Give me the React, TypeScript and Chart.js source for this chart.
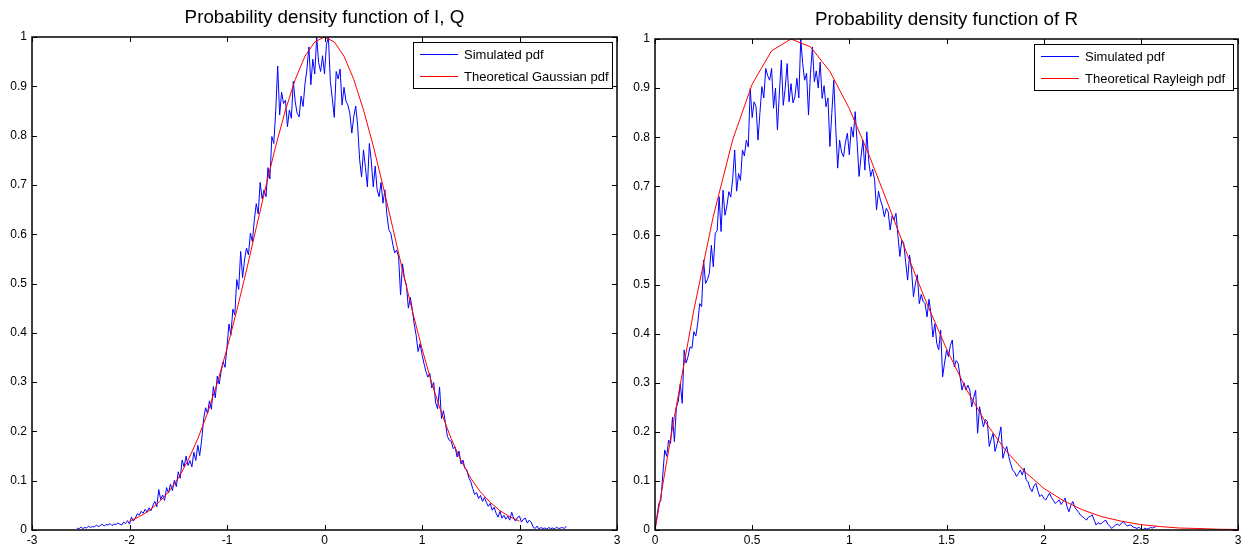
import React, { useEffect, useRef } from 'react';
import { Chart, registerables } from 'chart.js';

Chart.register(...registerables);

const FONT = '"Liberation Sans", Arial, Helvetica, sans-serif';

// ---------- Left panel: I, Q ----------
const leftTitle = 'Probability density function of I, Q';
const leftLegend = ['Simulated pdf', 'Theoretical Gaussian pdf'];
const leftXTicks = [-3, -2, -1, 0, 1, 2, 3];
const leftXTickLabels = ['-3', '-2', '-1', '0', '1', '2', '3'];
const leftSimStart = -2.54;
const leftSimStep = 0.02;
const leftSim = [
  0.004, 0.002, 0.006, 0.003, 0.005, 0.004, 0.008, 0.005, 0.007, 0.006,
  0.010, 0.007, 0.009, 0.012, 0.008, 0.011, 0.010, 0.013, 0.009, 0.012,
  0.011, 0.014, 0.012, 0.010, 0.016, 0.013, 0.019, 0.012, 0.026, 0.018,
  0.024, 0.033, 0.030, 0.038, 0.034, 0.042, 0.036, 0.045, 0.039, 0.050,
  0.058, 0.047, 0.082, 0.062, 0.071, 0.060, 0.086, 0.075, 0.093, 0.080,
  0.101, 0.088, 0.118, 0.105, 0.142, 0.128, 0.150, 0.131, 0.141, 0.128,
  0.158, 0.141, 0.172, 0.151, 0.182, 0.225, 0.248, 0.236, 0.262, 0.245,
  0.291, 0.268, 0.312, 0.296, 0.322, 0.341, 0.330, 0.372, 0.418, 0.395,
  0.448, 0.436, 0.508, 0.488, 0.565, 0.512, 0.548, 0.572, 0.558, 0.602,
  0.585, 0.628, 0.662, 0.641, 0.705, 0.672, 0.690, 0.676, 0.735, 0.712,
  0.798, 0.784, 0.852, 0.941, 0.842, 0.888, 0.865, 0.872, 0.818, 0.852,
  0.835, 0.910, 0.868, 0.845, 0.838, 0.880, 0.859, 0.905, 0.935, 0.980,
  0.903, 0.955, 0.925, 1.000, 0.948, 0.930, 0.962, 0.925, 0.985, 1.000,
  0.910, 0.875, 0.837, 0.930, 0.915, 0.935, 0.862, 0.898, 0.870, 0.862,
  0.845, 0.805, 0.838, 0.860, 0.820, 0.752, 0.716, 0.771, 0.735, 0.696,
  0.784, 0.748, 0.696, 0.738, 0.690, 0.676, 0.705, 0.663, 0.690, 0.640,
  0.609, 0.602, 0.580, 0.562, 0.568, 0.554, 0.477, 0.540, 0.510, 0.498,
  0.450, 0.472, 0.448, 0.418, 0.395, 0.362, 0.378, 0.356, 0.338, 0.322,
  0.310, 0.318, 0.288, 0.299, 0.258, 0.246, 0.290, 0.226, 0.242, 0.218,
  0.190, 0.182, 0.180, 0.165, 0.168, 0.148, 0.160, 0.134, 0.142, 0.125,
  0.122, 0.106, 0.098, 0.084, 0.072, 0.076, 0.064, 0.070, 0.058, 0.066,
  0.056, 0.048, 0.054, 0.040, 0.046, 0.034, 0.026, 0.038, 0.024, 0.030,
  0.022, 0.028, 0.020, 0.036, 0.024, 0.018, 0.026, 0.028, 0.016, 0.022,
  0.024, 0.014, 0.020, 0.016, 0.006, 0.003, 0.008, 0.002, 0.005, 0.003,
  0.004, 0.002, 0.005, 0.003, 0.004, 0.002, 0.006, 0.003, 0.004, 0.005, 0.003, 0.008,
];
const leftTheoStart = -2;
const leftTheoStep = 0.1;
const leftTheo = [
  0.018, 0.027, 0.039, 0.056, 0.077, 0.105, 0.141, 0.185, 0.237, 0.298,
  0.368, 0.445, 0.527, 0.613, 0.698, 0.779, 0.852, 0.914, 0.961, 0.990,
  1.000,
  0.990, 0.961, 0.914, 0.852, 0.779, 0.698, 0.613, 0.527, 0.445, 0.368,
  0.298, 0.237, 0.185, 0.141, 0.105, 0.077, 0.056, 0.039, 0.027, 0.018,
];

// ---------- Right panel: R ----------
const rightTitle = 'Probability density function of R';
const rightLegend = ['Simulated pdf', 'Theoretical Rayleigh pdf'];
const rightXTicks = [0, 0.5, 1, 1.5, 2, 2.5, 3];
const rightXTickLabels = ['0', '0.5', '1', '1.5', '2', '2.5', '3'];
const rightSimStart = 0;
const rightSimStep = 0.01;
const rightSim = [
  0.000, 0.028, 0.054, 0.060, 0.112, 0.163, 0.150, 0.183, 0.176, 0.230,
  0.180, 0.250, 0.262, 0.298, 0.258, 0.367, 0.340, 0.353, 0.373, 0.370,
  0.404, 0.395, 0.421, 0.461, 0.455, 0.550, 0.502, 0.510, 0.523, 0.580,
  0.536, 0.604, 0.610, 0.679, 0.608, 0.692, 0.641, 0.660, 0.689, 0.678,
  0.716, 0.774, 0.690, 0.726, 0.712, 0.774, 0.762, 0.794, 0.780, 0.899,
  0.840, 0.872, 0.862, 0.794, 0.850, 0.903, 0.880, 0.940, 0.925, 0.916,
  0.940, 0.859, 0.900, 0.815, 0.890, 0.957, 0.865, 0.900, 0.950, 0.872,
  0.909, 0.870, 0.882, 0.920, 0.880, 1.000, 0.950, 0.916, 0.930, 0.845,
  0.930, 0.984, 0.913, 0.935, 0.900, 0.953, 0.879, 0.905, 0.862, 0.880,
  0.781, 0.850, 0.916, 0.820, 0.737, 0.794, 0.770, 0.760, 0.790, 0.808,
  0.764, 0.821, 0.800, 0.852, 0.790, 0.720, 0.760, 0.794, 0.733, 0.811,
  0.750, 0.720, 0.735, 0.713, 0.652, 0.690, 0.672, 0.660, 0.638, 0.655,
  0.648, 0.611, 0.640, 0.631, 0.645, 0.600, 0.557, 0.590, 0.584, 0.545,
  0.509, 0.560, 0.530, 0.475, 0.502, 0.520, 0.461, 0.480, 0.465, 0.461,
  0.434, 0.470, 0.440, 0.393, 0.420, 0.380, 0.367, 0.407, 0.312, 0.340,
  0.366, 0.353, 0.376, 0.387, 0.332, 0.345, 0.339, 0.312, 0.285, 0.300,
  0.285, 0.295, 0.285, 0.251, 0.270, 0.285, 0.197, 0.251, 0.230, 0.210,
  0.225, 0.221, 0.170, 0.185, 0.197, 0.160, 0.175, 0.190, 0.210, 0.146,
  0.160, 0.170, 0.150, 0.135, 0.122, 0.118, 0.109, 0.115, 0.122, 0.112,
  0.126, 0.102, 0.098, 0.085, 0.078, 0.090, 0.095, 0.080, 0.068, 0.072,
  0.065, 0.061, 0.068, 0.075, 0.066, 0.060, 0.054, 0.058, 0.061, 0.052,
  0.058, 0.065, 0.048, 0.037, 0.050, 0.058, 0.046, 0.041, 0.036, 0.030,
  0.027, 0.024, 0.020, 0.026, 0.028, 0.031, 0.020, 0.010, 0.015, 0.012,
  0.014, 0.018, 0.020, 0.012, 0.008, 0.003, 0.007, 0.010, 0.012, 0.009,
  0.014, 0.017, 0.012, 0.008, 0.010, 0.010, 0.006, 0.005, 0.003, 0.006,
  0.002, 0.000, 0.004, 0.002, 0.003, 0.005, 0.004, 0.006, 0.007,
];
const rightTheoStart = 0;
const rightTheoStep = 0.1;
const rightTheo = [
  0.000, 0.231, 0.448, 0.639, 0.795, 0.908, 0.976, 1.000, 0.984, 0.934,
  0.858, 0.765, 0.663, 0.559, 0.460, 0.369, 0.288, 0.220, 0.164, 0.120,
  0.085, 0.060, 0.041, 0.027, 0.018, 0.011, 0.007, 0.004, 0.003, 0.0015,
  0.001,
];

// ---------- shared y axis ----------
const yTicks = [0, 0.1, 0.2, 0.3, 0.4, 0.5, 0.6, 0.7, 0.8, 0.9, 1];
const yTickLabels = ['0', '0.1', '0.2', '0.3', '0.4', '0.5', '0.6', '0.7', '0.8', '0.9', '1'];

const toPoints = (start: number, step: number, ys: number[]) =>
  ys.map((y, i) => ({ x: +(start + i * step).toFixed(4), y }));

const framePlugin = {
  id: 'pdfFrame',
  afterDatasetsDraw(chart: any, _args: any, opts: any) {
    const { ctx, chartArea: a, scales } = chart;
    const xs = scales.x;
    const ys = scales.y;
    ctx.save();
    ctx.strokeStyle = '#000';
    ctx.lineWidth = 1;
    ctx.beginPath();
    const tl = 5;
    xs.ticks.forEach((t: any) => {
      const p = Math.round(xs.getPixelForValue(t.value)) + 0.5;
      ctx.moveTo(p, a.bottom);
      ctx.lineTo(p, a.bottom - tl);
      ctx.moveTo(p, a.top);
      ctx.lineTo(p, a.top + tl);
    });
    ys.ticks.forEach((t: any) => {
      const p = Math.round(ys.getPixelForValue(t.value)) + 0.5;
      ctx.moveTo(a.left, p);
      ctx.lineTo(a.left + tl, p);
      ctx.moveTo(a.right, p);
      ctx.lineTo(a.right - tl, p);
    });
    ctx.stroke();
    ctx.lineWidth = 1.5;
    ctx.strokeRect(Math.round(a.left), Math.round(a.top), Math.round(a.right - a.left), Math.round(a.bottom - a.top));

    // legend box
    const bw = 199;
    const bh = 46;
    const bx = Math.round(a.right) - 5 - bw;
    const by = Math.round(a.top) + 5;
    ctx.fillStyle = '#fff';
    ctx.fillRect(bx, by, bw, bh);
    ctx.lineWidth = 1;
    ctx.strokeStyle = '#000';
    ctx.strokeRect(bx + 0.5, by + 0.5, bw, bh);
    ctx.font = `13px ${FONT}`;
    ctx.textBaseline = 'middle';
    ctx.textAlign = 'left';
    const labels: string[] = opts.labels;
    const colors: string[] = opts.colors;
    labels.forEach((lab, i) => {
      const yy = by + 12 + i * 22 + 0.5;
      ctx.strokeStyle = colors[i];
      ctx.beginPath();
      ctx.moveTo(bx + 7, yy);
      ctx.lineTo(bx + 45, yy);
      ctx.stroke();
      ctx.fillStyle = '#000';
      ctx.fillText(lab, bx + 51, yy + 0.5);
    });
    ctx.restore();
  },
};

type Panel = {
  title: string;
  legend: string[];
  sim: { x: number; y: number }[];
  theo: { x: number; y: number }[];
  xMin: number;
  xMax: number;
  xTicks: number[];
  xTickLabels: string[];
  left: number;
  width: number;
  yAxisWidth: number;
  padRight: number;
  titleTop: number;
};

function makeConfig(p: Panel): any {
  return {
    type: 'line',
    data: {
      datasets: [
        {
          label: p.legend[1],
          data: p.theo,
          borderColor: '#ff0000',
          borderWidth: 1,
          pointRadius: 0,
          tension: 0,
          fill: false,
          order: 0,
        },
        {
          label: p.legend[0],
          data: p.sim,
          borderColor: '#0000ff',
          borderWidth: 1,
          pointRadius: 0,
          tension: 0,
          fill: false,
          order: 1,
        },
      ],
    },
    options: {
      responsive: false,
      animation: false,
      devicePixelRatio: 1,
      events: [],
      layout: { padding: { left: 0, right: p.padRight, top: 0, bottom: 0 } },
      plugins: {
        legend: { display: false },
        tooltip: { enabled: false },
        title: {
          display: true,
          fullSize: false,
          text: p.title,
          color: '#000',
          font: { family: FONT, size: 18.8, weight: 'normal', lineHeight: 1.2 },
          padding: { top: p.titleTop, bottom: 7.44 },
        },
        pdfFrame: { labels: p.legend, colors: ['#0000ff', '#ff0000'] },
      },
      scales: {
        x: {
          type: 'linear',
          min: p.xMin,
          max: p.xMax,
          afterBuildTicks: (s: any) => {
            s.ticks = p.xTicks.map((v) => ({ value: v }));
          },
          afterFit: (s: any) => {
            s.height = 21;
          },
          ticks: {
            autoSkip: false,
            maxRotation: 0,
            padding: 3,
            color: '#000',
            font: { family: FONT, size: 12 },
            callback: (_v: any, i: number) => p.xTickLabels[i],
          },
          grid: { display: false, drawTicks: false },
          border: { display: false },
        },
        y: {
          type: 'linear',
          min: 0,
          max: 1,
          afterBuildTicks: (s: any) => {
            s.ticks = yTicks.map((v) => ({ value: v }));
          },
          afterFit: (s: any) => {
            s.width = p.yAxisWidth;
          },
          ticks: {
            autoSkip: false,
            padding: 5,
            color: '#000',
            font: { family: FONT, size: 12 },
            callback: (_v: any, i: number) => yTickLabels[i],
          },
          grid: { display: false, drawTicks: false },
          border: { display: false },
        },
      },
    },
    plugins: [framePlugin],
  };
}

function PdfChart({ panel }: { panel: Panel }) {
  const ref = useRef<HTMLCanvasElement>(null);
  useEffect(() => {
    if (!ref.current) return;
    const chart = new Chart(ref.current, makeConfig(panel));
    return () => chart.destroy();
  }, [panel]);
  return (
    <canvas
      ref={ref}
      width={panel.width}
      height={551}
      style={{ position: 'absolute', left: panel.left, top: 0, width: panel.width, height: 551, display: 'block' }}
    />
  );
}

const leftPanel: Panel = {
  title: leftTitle,
  legend: leftLegend,
  sim: toPoints(leftSimStart, leftSimStep, leftSim),
  theo: toPoints(leftTheoStart, leftTheoStep, leftTheo),
  xMin: -3,
  xMax: 3,
  xTicks: leftXTicks,
  xTickLabels: leftXTickLabels,
  left: 0,
  width: 624,
  yAxisWidth: 32,
  padRight: 7,
  titleTop: 7,
};

const rightPanel: Panel = {
  title: rightTitle,
  legend: rightLegend,
  sim: toPoints(rightSimStart, rightSimStep, rightSim),
  theo: toPoints(rightTheoStart, rightTheoStep, rightTheo),
  xMin: 0,
  xMax: 3,
  xTicks: rightXTicks,
  xTickLabels: rightXTickLabels,
  left: 624,
  width: 625,
  yAxisWidth: 31,
  padRight: 11,
  titleTop: 9,
};

export default function App() {
  return (
    <div style={{ position: 'fixed', left: 0, top: 0, width: 1249, height: 551, background: '#fff', overflow: 'hidden' }}>
      <PdfChart panel={leftPanel} />
      <PdfChart panel={rightPanel} />
    </div>
  );
}
